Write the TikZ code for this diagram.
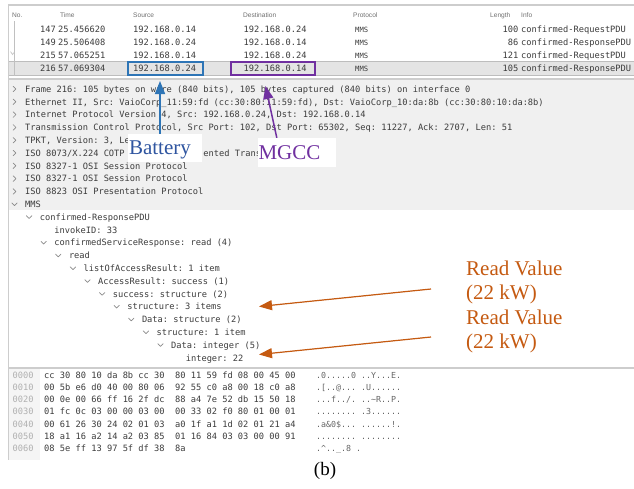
\documentclass[tikz,border=0pt]{standalone}
\usepackage{fontspec}
\setmainfont{Liberation Serif}
\setmonofont{DejaVu Sans Mono}
\newfontfamily\uisans{Liberation Sans}
\usetikzlibrary{arrows.meta,calc}

\definecolor{panelgray}{HTML}{F0F0F0}
\definecolor{rulegray}{HTML}{CDCDCD}
\definecolor{selgray}{HTML}{E4E4E4}
\definecolor{selrule}{HTML}{BDBDBD}
\definecolor{codetext}{HTML}{3C3C3C}
\definecolor{asciitext}{HTML}{666666}
\definecolor{offsetgray}{HTML}{B0B0B0}
\definecolor{hdrgray}{HTML}{707070}
\definecolor{chevgray}{HTML}{8A8A8A}
\definecolor{boxblue}{HTML}{2E75B6}
\definecolor{labelblue}{HTML}{2F55A0}
\definecolor{mgccpurple}{HTML}{7030A0}
\definecolor{readorange}{HTML}{C55A11}

\begin{document}
\begin{tikzpicture}[x=1pt,y=-1pt,
  mono/.style={font=\fontsize{8.7}{10}\ttfamily, text=codetext, inner sep=0pt, anchor=base west},
  monor/.style={mono, anchor=base east},
  proto/.style={font=\fontsize{7.2}{9}\ttfamily, text=codetext, inner sep=0pt, anchor=base west},
  hdr/.style={font=\fontsize{6.6}{8}\uisans, text=hdrgray, inner sep=0pt, anchor=base west},
  offs/.style={mono, text=offsetgray},
  asc/.style={font=\fontsize{8.3}{10}\ttfamily, text=asciitext, inner sep=0pt, anchor=base west},
  chevline/.style={draw=chevgray, line width=0.7pt, line cap=round, line join=round},
  chevr/.pic={\draw[chevline] (-1.3,-2.7) -- (1.4,0) -- (-1.3,2.7);},
  chevd/.pic={\draw[chevline] (-2.7,-1.3) -- (0,1.4) -- (2.7,-1.3);},
  labelbox/.style={fill=white, inner sep=0pt, text depth=0pt, font=\fontsize{21}{24}\selectfont},
  readlabel/.style={font=\fontsize{21}{24.5}\selectfont, text=readorange, align=left, inner sep=0pt, anchor=north west},
  hlbox/.style={draw, line width=1.5pt, inner sep=0pt},
  callout/.style={line width=1.5pt, -{Triangle[length=13pt,width=10pt]}},
  readarrow/.style={draw=readorange, line width=1.2pt, -{Triangle[length=13pt,width=10pt]}, fill=readorange}
]
\useasboundingbox (0,0) rectangle (634,488);
\fill[white] (0,0) rectangle (634,488);

% ---------- packet list ----------
\draw[rulegray, line width=2pt] (8,5) -- (634,5);
\node[hdr] (hNo)   at (12,17.5)  {No.};
\node[hdr] (hTime) at (60,17.5)  {Time};
\node[hdr] (hSrc)  at (133,17.5) {Source};
\node[hdr] (hDst)  at (243,17.5) {Destination};
\node[hdr] (hProt) at (353,17.5) {Protocol};
\node[hdr] (hLen)  at (490,17.5) {Length};
\node[hdr] (hInfo) at (521,17.5) {Info};

% selected row
\fill[selgray] (8,61.5) rectangle (634,75.5);
\draw[selrule, line width=0.6pt] (8,61.5) -- (634,61.5) (8,75.5) -- (634,75.5);

% related-packet indicator
\draw[offsetgray!80, line width=0.6pt] (14,21) -- (14,76);
\draw[offsetgray!80, line width=0.6pt] (10.5,51.5) -- (12.5,54.5) -- (14,52.5);

\node[monor] (n1) at (56,32) {147};
\node[mono]  (t1) at (58,32) {25.456620};
\node[mono]  (s1) at (133,32) {192.168.0.14};
\node[mono]  (d1) at (243.5,32) {192.168.0.24};
\node[proto] (p1) at (355,32) {MMS};
\node[monor] (l1) at (518.5,32) {100};
\node[mono]  (i1) at (521,32) {confirmed-RequestPDU};

\node[monor] (n2) at (56,45) {149};
\node[mono]  (t2) at (58,45) {25.506408};
\node[mono]  (s2) at (133,45) {192.168.0.24};
\node[mono]  (d2) at (243.5,45) {192.168.0.14};
\node[proto] (p2) at (355,45) {MMS};
\node[monor] (l2) at (518.5,45) {86};
\node[mono]  (i2) at (521,45) {confirmed-ResponsePDU};

\node[monor] (n3) at (56,58) {215};
\node[mono]  (t3) at (58,58) {57.065251};
\node[mono]  (s3) at (133,58) {192.168.0.14};
\node[mono]  (d3) at (243.5,58) {192.168.0.24};
\node[proto] (p3) at (355,58) {MMS};
\node[monor] (l3) at (518.5,58) {121};
\node[mono]  (i3) at (521,58) {confirmed-RequestPDU};

\node[monor] (n4) at (56,71.5) {216};
\node[mono]  (t4) at (58,71.5) {57.069304};
\node[mono]  (s4) at (133,71.5) {192.168.0.24};
\node[mono]  (d4) at (243.5,71.5) {192.168.0.14};
\node[proto] (p4) at (355,71.5) {MMS};
\node[monor] (l4) at (518.5,71.5) {105};
\node[mono]  (i4) at (521,71.5) {confirmed-ResponsePDU};

% highlighted source / destination
\node[hlbox, draw=boxblue, minimum width=75pt, minimum height=13pt] (srcbox) at (165.5,68.5) {};
\node[hlbox, draw=mgccpurple, minimum width=84pt, minimum height=13pt] (dstbox) at (273,68.5) {};

% ---------- packet details ----------
\fill[panelgray] (8,80) rectangle (634,210);
\draw[rulegray, line width=2pt] (8,79) -- (634,79);

\pic at (14.5,89.0)  {chevr}; \node[mono] (f0) at (25,92.2)  {Frame 216: 105 bytes on wire (840 bits), 105 bytes captured (840 bits) on interface 0};
\pic at (14.5,101.8) {chevr}; \node[mono] (f1) at (25,105.0) {Ethernet II, Src: VaioCorp\_11:59:fd (cc:30:80:11:59:fd), Dst: VaioCorp\_10:da:8b (cc:30:80:10:da:8b)};
\pic at (14.5,114.6) {chevr}; \node[mono] (f2) at (25,117.8) {Internet Protocol Version 4, Src: 192.168.0.24, Dst: 192.168.0.14};
\pic at (14.5,127.4) {chevr}; \node[mono] (f3) at (25,130.6) {Transmission Control Protocol, Src Port: 102, Dst Port: 65302, Seq: 11227, Ack: 2707, Len: 51};
\pic at (14.5,140.2) {chevr}; \node[mono] (f4) at (25,143.4) {TPKT, Version: 3, Le};
\pic at (14.5,153.0) {chevr}; \node[mono] (f5) at (25,156.2) {ISO 8073/X.224 COTP};
                              \node[mono] (f5b) at (203.2,156.2) {ented Trans};
\pic at (14.5,165.8) {chevr}; \node[mono] (f6) at (25,169.0) {ISO 8327-1 OSI Session Protocol};
\pic at (14.5,178.6) {chevr}; \node[mono] (f7) at (25,181.8) {ISO 8327-1 OSI Session Protocol};
\pic at (14.5,191.4) {chevr}; \node[mono] (f8) at (25,194.6) {ISO 8823 OSI Presentation Protocol};
\pic at (14.5,204.2) {chevd}; \node[mono] (f9) at (25,207.4) {MMS};

\pic at (29.1,217.0)  {chevd}; \node[mono] (m1)  at (39.6,220.2)  {confirmed-ResponsePDU};
                               \node[mono] (m2)  at (54.2,233.0)  {invokeID: 33};
\pic at (43.7,242.6)  {chevd}; \node[mono] (m3)  at (54.2,245.8)  {confirmedServiceResponse: read (4)};
\pic at (58.3,255.4)  {chevd}; \node[mono] (m4)  at (68.8,258.6)  {read};
\pic at (72.9,268.2)  {chevd}; \node[mono] (m5)  at (83.4,271.4)  {listOfAccessResult: 1 item};
\pic at (87.5,281.0)  {chevd}; \node[mono] (m6)  at (98.0,284.2)  {AccessResult: success (1)};
\pic at (102.1,293.8) {chevd}; \node[mono] (m7)  at (112.6,297.0) {success: structure (2)};
\pic at (116.7,306.6) {chevd}; \node[mono] (m8)  at (127.2,309.8) {structure: 3 items};
\pic at (131.3,319.4) {chevd}; \node[mono] (m9)  at (141.8,322.6) {Data: structure (2)};
\pic at (145.9,332.2) {chevd}; \node[mono] (m10) at (156.4,335.4) {structure: 1 item};
\pic at (160.5,345.0) {chevd}; \node[mono] (m11) at (171.0,348.2) {Data: integer (5)};
                               \node[mono] (m12) at (185.6,361.0) {integer: 22};

% ---------- packet bytes ----------
\draw[rulegray, line width=2pt] (8,367.5) -- (634,367.5);
\fill[panelgray!70] (8.5,369) rectangle (40,460);

\node[offs] (o0) at (12.5,378.0) {0000}; \node[mono] (x0) at (44,378.0) {cc 30 80 10 da 8b cc 30\ \ 80 11 59 fd 08 00 45 00}; \node[asc] (a0) at (316,378.0) {.0.....0 ..Y...E.};
\node[offs] (o1) at (12.5,390.3) {0010}; \node[mono] (x1) at (44,390.3) {00 5b e6 d0 40 00 80 06\ \ 92 55 c0 a8 00 18 c0 a8}; \node[asc] (a1) at (316,390.3) {.[..@... .U......};
\node[offs] (o2) at (12.5,402.6) {0020}; \node[mono] (x2) at (44,402.6) {00 0e 00 66 ff 16 2f dc\ \ 88 a4 7e 52 db 15 50 18}; \node[asc] (a2) at (316,402.6) {...f../. ..\textasciitilde R..P.};
\node[offs] (o3) at (12.5,414.9) {0030}; \node[mono] (x3) at (44,414.9) {01 fc 0c 03 00 00 03 00\ \ 00 33 02 f0 80 01 00 01}; \node[asc] (a3) at (316,414.9) {........ .3......};
\node[offs] (o4) at (12.5,427.2) {0040}; \node[mono] (x4) at (44,427.2) {00 61 26 30 24 02 01 03\ \ a0 1f a1 1d 02 01 21 a4}; \node[asc] (a4) at (316,427.2) {.a\&0\$... ......!.};
\node[offs] (o5) at (12.5,439.5) {0050}; \node[mono] (x5) at (44,439.5) {18 a1 16 a2 14 a2 03 85\ \ 01 16 84 03 03 00 00 91}; \node[asc] (a5) at (316,439.5) {........ ........};
\node[offs] (o6) at (12.5,451.8) {0060}; \node[mono] (x6) at (44,451.8) {08 5e ff 13 97 5f df 38\ \ 8a}; \node[asc] (a6) at (316,451.8) {.\textasciicircum..\_.8 .};

% window left edge
\draw[rulegray, line width=1pt] (8,4) -- (8,460);

% ---------- annotations ----------
\node[labelbox, text=labelblue, minimum width=74pt, minimum height=28pt, text width=72pt, align=left, inner xsep=1pt] (bat) at (165,148) {Battery};
\node[labelbox, text=mgccpurple, minimum width=78pt, minimum height=29pt, text width=77pt, align=left, inner xsep=0.5pt] (mgcc) at (297,152.5) {MGCC};

\coordinate (batTip) at (160,81);
\coordinate (mgccTip) at (265.5,86);
\draw[callout, draw=boxblue, fill=boxblue] (bat.north -| batTip) -- (batTip);
\draw[callout, draw=mgccpurple, fill=mgccpurple] ($(mgcc.north west)+(19,0)$) -- (mgccTip);

\node[readlabel] (rv1) at (466,260.7) {Read Value\\(22 kW)};
\node[readlabel] (rv2) at (466,309.4) {Read Value\\(22 kW)};
\coordinate (rv1tail) at (431,289);
\coordinate (rv1tip)  at (259,306.5);
\coordinate (rv2tail) at (431,337);
\coordinate (rv2tip)  at (259,354.5);
\draw[readarrow] (rv1tail) -- (rv1tip);
\draw[readarrow] (rv2tail) -- (rv2tip);

% caption
\node[font=\fontsize{19}{22}\selectfont, inner sep=0pt] (cap) at (325,471) {(b)};
\end{tikzpicture}
\end{document}
